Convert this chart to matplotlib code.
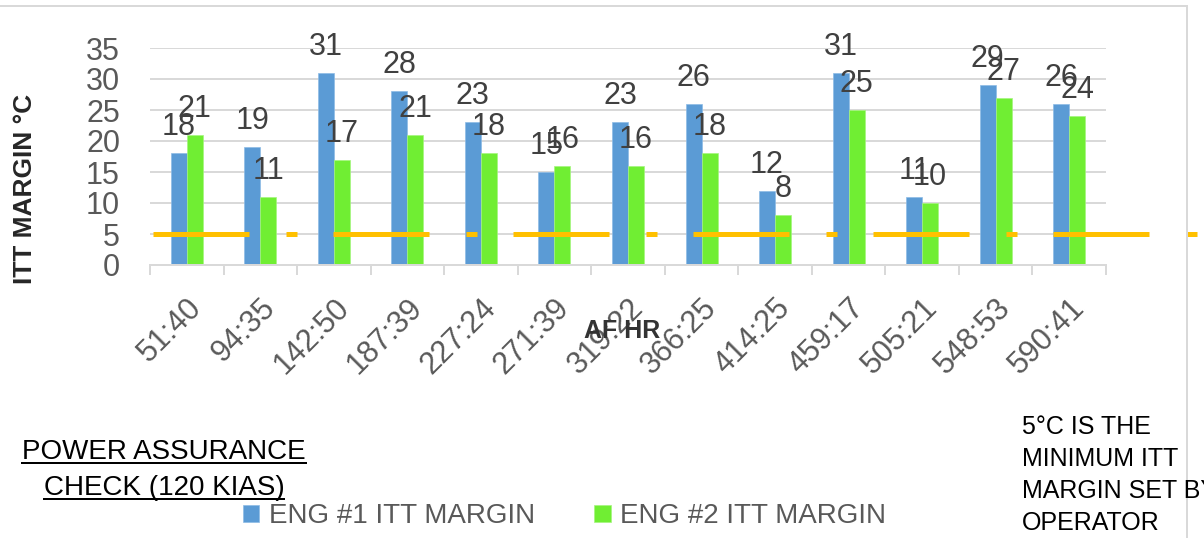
import matplotlib
matplotlib.use("Agg")
import matplotlib.pyplot as plt
import numpy as np
from matplotlib.lines import Line2D

# ---------------- data ----------------
af_hr = ["51:40", "94:35", "142:50", "187:39", "227:24", "271:39", "319:22",
         "366:25", "414:25", "459:17", "505:21", "548:53", "590:41"]
eng1_margin = [18, 19, 31, 28, 23, 15, 23, 26, 12, 31, 11, 29, 26]
eng2_margin = [21, 11, 17, 21, 18, 16, 16, 18, 8, 25, 10, 27, 24]
min_margin = 5
y_ticks = [0, 5, 10, 15, 20, 25, 30, 35]

# ---------------- style ----------------
plt.rcParams['font.family'] = ['Liberation Sans', 'DejaVu Sans']
plt.rcParams['lines.scale_dashes'] = False

W, H, DPI = 1204, 538, 100
fig = plt.figure(figsize=(W / DPI, H / DPI), dpi=DPI)
px = 72.0 / DPI  # points per pixel

ax = fig.add_axes([150 / W, 1 - 265 / H, (1106 - 150) / W, (265 - 48) / H])

blue = "#5B9BD5"
green = "#70EE33"
orange = "#FFC000"
grid_c = "#D9D9D9"

x = np.arange(len(af_hr))
bw = 0.218
b1 = ax.bar(x - bw / 2, eng1_margin, bw, color=blue, label="ENG #1 ITT MARGIN",
            zorder=2, edgecolor="#8DBBE6", linewidth=0.5)
b2 = ax.bar(x + bw / 2, eng2_margin, bw, color=green, label="ENG #2 ITT MARGIN",
            zorder=2, edgecolor="#A5F57F", linewidth=0.5)

# data labels
for bars, vals in ((b1, eng1_margin), (b2, eng2_margin)):
    for rect, v in zip(bars, vals):
        ax.annotate(str(v), (rect.get_x() + rect.get_width() / 2, v),
                    xytext=(0, 18 * px), textcoords="offset points",
                    ha="center", va="baseline", fontsize=22, color="#404040",
                    zorder=4, annotation_clip=False)

# minimum margin line (extends beyond the plot area like in the source)
ax.plot([0.003, 1.16], [min_margin, min_margin], transform=ax.get_yaxis_transform(),
        color=orange, linewidth=5 * px, solid_capstyle="butt", dash_capstyle="butt",
        dashes=(96 * px, 37 * px, 11 * px, 36 * px), clip_on=False, zorder=3)

ax.set_xlim(-0.5, len(af_hr) - 0.5)
ax.set_ylim(0, 35)
ax.set_yticks(y_ticks)
ax.set_yticklabels([str(t) for t in y_ticks])
ax.yaxis.grid(True, color=grid_c, linewidth=2 * px, zorder=0)
ax.set_axisbelow(True)

for s in ("left", "top", "right"):
    ax.spines[s].set_visible(False)
ax.spines["bottom"].set_color(grid_c)
ax.spines["bottom"].set_linewidth(2 * px)

ax.set_xticks(x)
ax.set_xticklabels(af_hr, rotation=45, ha="right", rotation_mode="anchor",
                   fontsize=22, color="#595959")
ax.set_xticks(np.arange(-0.5, len(af_hr), 1.0), minor=True)
ax.tick_params(axis="x", which="major", length=0, pad=20)
ax.tick_params(axis="x", which="minor", length=10 * px, width=2 * px, color=grid_c,
               direction="out")
ax.tick_params(axis="y", length=0, pad=30 * px, labelsize=22, labelcolor="#595959")

ax.set_ylabel("ITT MARGIN °C", fontsize=19, fontweight="bold", color="#262626")
ax.yaxis.set_label_coords((25 - 150) / 956, (265 - 189) / 217)
ax.yaxis.label.set_va("center")
ax.set_xlabel("AF HR", fontsize=18, fontweight="bold", color="#333333")
ax.xaxis.set_label_coords((622 - 150) / 956, (265 - 331) / 217)
ax.xaxis.label.set_va("center")

# chart-area border (top and right visible)
fig.add_artist(Line2D([0, 1187 / W], [1 - 6 / H, 1 - 6 / H], color=grid_c,
                      linewidth=2 * px, transform=fig.transFigure))
fig.add_artist(Line2D([1187 / W, 1187 / W], [1 - 6 / H, 0], color=grid_c,
                      linewidth=2 * px, transform=fig.transFigure))

# legend
leg = fig.legend(handles=[b1, b2], loc="upper left", bbox_to_anchor=(243 / W, 1 - 503 / H),
                 ncol=2, frameon=False, fontsize=20, handlelength=0.58, handleheight=0.58,
                 handletextpad=0.34, columnspacing=2.15, borderpad=0, borderaxespad=0,
                 labelcolor="#595959")

# title (underlined)
t1 = fig.text(164 / W, 1 - 459 / H, "POWER ASSURANCE", ha="center", va="baseline",
              fontsize=20, color="black")
t2 = fig.text(164 / W, 1 - 495 / H, "CHECK (120 KIAS)", ha="center", va="baseline",
              fontsize=20, color="black")

# note
fig.text(1022 / W, 1 - 415 / H, "5°C IS THE\nMINIMUM ITT\nMARGIN SET BY\nOPERATOR",
         ha="left", va="top", fontsize=18, color="black", linespacing=1.42)

fig.canvas.draw()
r = fig.canvas.get_renderer()
for t, uy in ((t1, 462.5), (t2, 499)):
    bb = t.get_window_extent(r)
    fig.add_artist(Line2D([bb.x0 / W, bb.x1 / W], [1 - uy / H, 1 - uy / H],
                          color="black", linewidth=2 * px, transform=fig.transFigure))

fig.savefig("out.png", dpi=DPI)
